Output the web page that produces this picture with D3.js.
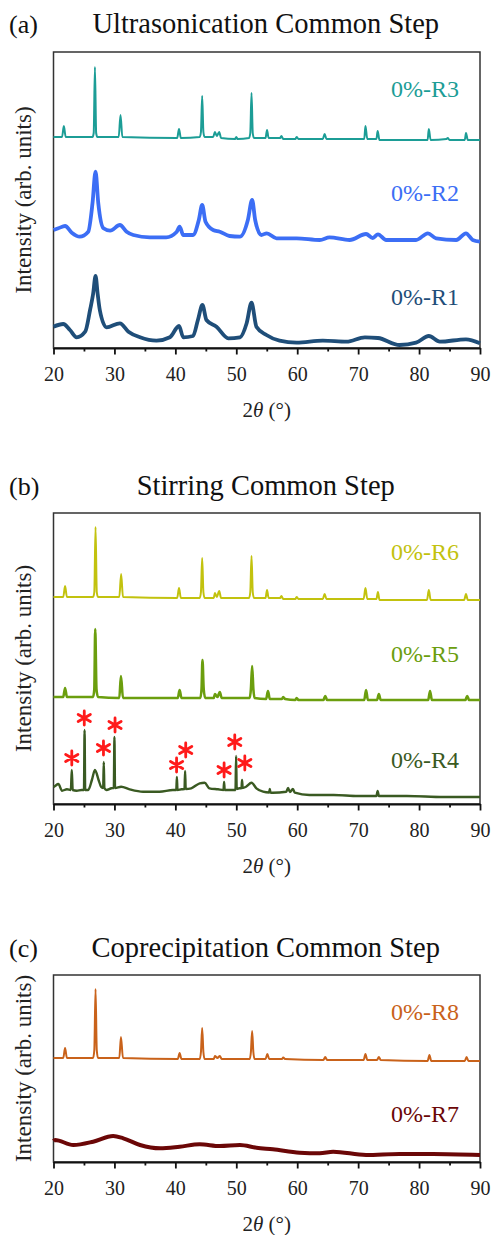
<!DOCTYPE html>
<html lang="en">
<head>
<meta charset="UTF-8">
<title>XRD patterns</title>
<script src="https://cdn.jsdelivr.net/npm/d3@7"></script>
<style>
  body { margin: 0; background: #fff; }
  svg { display: block; }
  text { font-family: "Liberation Serif", "Times New Roman", serif; }
</style>
</head>
<body>
<svg id="chart" width="493" height="1235"></svg>
<script>
// ---- data ----
var xTickValues = [20, 30, 40, 50, 60, 70, 80, 90];
var xMinorValues = [25, 35, 45, 55, 65, 75, 85];

var panelTags = ["(a)", "(b)", "(c)"];
var panelTitles = ["Ultrasonication Common Step", "Stirring Common Step", "Coprecipitation Common Step"];

var namesA = ["0%-R3", "0%-R2", "0%-R1"];
var namesB = ["0%-R6", "0%-R5", "0%-R4"];
var namesC = ["0%-R8", "0%-R7"];

// [2θ, intensity (arb. units)]
var r3 = [[20,211],[21.4,211],[21.7,222],[22.0,211],[26.4,211],[26.6,215],[26.8,281],[27.0,215],[27.2,211],
  [30.7,211],[31.0,233],[31.3,211],[40.3,210],[40.6,219],[40.9,210],[44.0,211],[44.2,216],[44.4,252],[44.6,216],
  [44.8,211],[46.2,211],[46.5,216],[46.8,212],[47.2,216],[47.5,210],[49.8,209],[50.0,211],[50.2,209],[52.1,210],
  [52.3,215],[52.5,255],[52.7,215],[52.9,210],[54.8,210],[55.05,218],[55.3,210],[57.2,210],[57.4,212],[57.7,209],
  [59.7,209],[59.9,211],[60.2,209],[64.2,209],[64.5,214],[64.8,209],[71.0,209],[71.2,222],[71.5,209],[73.0,209],
  [73.2,217],[73.5,208],[76,208],[81.4,208],[81.6,219],[81.9,208],[84.5,209],[84.7,210],[85,208],[87.5,208],
  [87.7,215],[88.0,208],[90,208]];
var r2 = [[20,118],[20.8,119.7],[21.9,122],[23.0,115.3],[24.3,111.3],[25.7,116.3],[26.4,144.7],[26.9,176.3],
  [27.35,144.7],[28.2,119.7],[29.3,117.3],[30.9,123],[32.0,116.3],[33.1,113],[35.8,110.7],[38.5,110.7],[40.2,116],
  [40.7,121.3],[41.3,113],[42.9,113],[43.85,128],[44.4,143],[44.95,126.3],[46.2,118],[47.3,116.3],[48.9,112],
  [50.6,111.3],[51.9,128],[52.6,148],[53.1,128],[54.1,113],[55.0,114.7],[56.6,109.7],[59.9,109.7],[63.7,108],
  [65.3,110.7],[68.6,108],[71.3,114],[72.4,110],[73.25,113.7],[74.6,108],[79.5,108],[81.45,114.7],[82.8,109.7],
  [86.1,108],[87.7,114.7],[88.8,108],[90,106.3]];
var r1 = [[20,21.3],[21.6,24],[22.7,18],[23.8,10.7],[25.2,16.3],[26.0,38],[26.5,54],[26.9,72],[27.25,54],[27.6,38],
  [28.7,20.7],[30.9,24.7],[32.3,16.3],[34.2,10.7],[36.9,7.3],[39.1,10.7],[40.6,22],[41.3,10.7],[42.9,12],[43.7,28],
  [44.45,43],[45.1,28],[46.75,21.3],[48.7,9.7],[50.6,10.7],[51.7,24.7],[52.5,45.3],[53.3,21.3],[54.95,13],
  [57.1,7.3],[59.9,5.3],[64.2,7.3],[68.1,6.3],[71.1,10.7],[73.25,10],[76.8,3],[79.5,5.3],[81.6,12],[83.4,6.3],
  [87.7,8.7],[90,4.7]];

var r6 = [[20,207],[21.6,207],[21.9,218],[22.2,207],[26.5,207],[26.7,212],[26.9,277],[27.1,212],[27.3,207],
  [30.8,207],[31.1,230],[31.4,207],[40.3,206],[40.6,216],[40.9,206],[44.0,206],[44.2,212],[44.4,246],[44.6,212],
  [44.8,206],[46.3,206],[46.5,211],[46.8,207],[47.2,213],[47.5,206],[52.1,206],[52.3,212],[52.5,248],[52.7,212],
  [52.9,206],[54.8,206],[55.05,214],[55.3,206],[57.2,206],[57.4,208],[57.7,205],[59.7,205],[59.9,207],[60.2,205],
  [64.2,205],[64.5,210],[64.8,205],[70.9,205],[71.2,216],[71.5,205],[73.0,205],[73.25,212],[73.5,204],[81.3,204],
  [81.6,214],[81.9,204],[87.4,204],[87.7,210],[88.0,204],[90,204]];
var r5 = [[20,107],[21.6,107],[21.9,116],[22.2,107],[26.5,107],[26.7,115],[26.85,175],[27.05,115],[27.3,107],
  [30.8,106],[31.07,128],[31.4,106],[40.4,106],[40.7,114],[41.0,106],[44.1,106],[44.3,115],[44.45,144],[44.65,115],
  [44.9,106],[46.3,106],[46.5,110],[46.9,107],[47.3,112],[47.6,106],[52.2,106],[52.4,115],[52.6,138],[52.8,115],
  [53.0,106],[54.9,105],[55.2,113],[55.5,105],[57.5,105],[57.7,107],[58,105],[59.7,104],[59.9,106],[60.2,104],
  [64.3,104],[64.6,108],[64.9,104],[71.0,104],[71.3,114],[71.6,104],[73.1,104],[73.4,110],[73.7,104],[81.5,104],
  [81.8,113],[82.1,104],[87.6,104],[87.9,108],[88.2,104],[90,104]];
var r4 = [[20,17],[20.25,18],[20.8,20],[21.4,13.3],[22.2,14.7],[22.85,14],[23.0,34],[23.15,14],[23.8,13.3],
  [24.6,14],[25.0,14],[25.1,74],[25.2,14],[25.7,14],[26.3,24],[26.8,34],[27.4,24],[27.8,17.3],[28.15,16],[28.25,42],
  [28.35,16],[28.7,14],[29.5,15.7],[29.9,16],[30.0,67],[30.1,16],[31.1,17.3],[32.5,14.7],[34.7,12.3],[37.4,12.3],
  [39.6,14],[40.15,14],[40.25,27],[40.35,14],[41.0,14.7],[41.5,15],[41.6,33],[41.7,15],[42.6,15.7],[44.0,20.7],
  [44.8,21.3],[45.6,15.7],[47.0,14.7],[47.9,14],[48.0,22],[48.1,14],[49.2,14],[49.87,14],[49.97,48],[50.07,15],
  [50.5,15.7],[50.85,16],[50.95,24],[51.05,16],[51.6,17.3],[52.5,21.3],[53.3,15.7],[54.4,12.3],[55.4,11.5],
  [55.5,15],[55.6,11.5],[56.0,11.3],[58.2,12.3],[58.5,16],[58.8,12],[59.3,15],[59.6,11.3],[62,9],[66,9],[70,8],
  [73.0,8],[73.2,13],[73.4,8],[78,8],[84,7],[90,7]];
// red asterisks above the extra peaks of 0%-R4
var starTheta = [23.0, 25.05, 28.2, 30.1, 40.2, 41.7, 48.0, 49.75, 51.4];
var starLevel = [46, 86, 56, 79, 39, 54, 34, 62, 41];

var r8 = [[20,104],[21.6,104],[21.9,114],[22.2,104],[26.5,104],[26.7,112],[26.9,173],[27.1,112],[27.3,104],
  [30.8,104],[31.07,125],[31.4,104],[40.4,103],[40.7,109],[41.0,103],[44.0,103],[44.2,110],[44.4,134],[44.6,110],
  [44.8,103],[46.3,103],[46.5,106],[46.9,104],[47.3,106],[47.6,103],[52.2,103],[52.4,110],[52.6,131],[52.8,110],
  [53.0,103],[54.8,103],[55.1,108],[55.4,103],[57.5,103],[57.7,104.5],[58,103],[64.3,102],[64.6,105],[64.9,102],
  [70.9,102],[71.2,108],[71.5,102],[73.1,102],[73.4,105],[73.7,102],[81.4,101],[81.7,107],[82.0,101],[87.5,101],
  [87.8,105],[88.1,101],[90,101]];
var r7 = [[20,21],[20.25,22],[23.25,17],[26.5,20.3],[29.8,26],[31.45,23.7],[34.2,17],[37.5,13.7],[40.7,15.3],
  [44.0,17.7],[47.3,16],[50.6,17],[53.3,14.3],[56.0,12.7],[60.4,9.3],[63.7,8.7],[65.9,10.3],[71.3,7],[76.8,8],
  [82.3,8],[90,7]];

// ---- layout & style ----
var plotLeft = 53.5, plotRight = 480;
var serif = "'Liberation Serif', 'Times New Roman', serif";
var panels = [
  {top: 52, bottom: 348, titleY: 33, yMax: 296, names: namesA, series: [r3, r2, r1],
   colors: ["#1c9d96", "#3c6ef5", "#1f4e79"], widths: [2, 3.8, 3.8], labelY: [97, 201, 305]},
  {top: 513, bottom: 804, titleY: 495, yMax: 291, names: namesB, series: [r6, r5, r4],
   colors: ["#c2c20e", "#6b9e0e", "#3a5a22"], widths: [2, 2.6, 2.4], labelY: [560, 662, 768]},
  {top: 975, bottom: 1162, titleY: 957, yMax: 187, names: namesC, series: [r8, r7],
   colors: ["#c9621a", "#6b0707"], widths: [2, 4], labelY: [1020, 1122]}
];

var svg = d3.select("#chart").attr("font-family", serif);
var x = d3.scaleLinear().domain([20, 90]).range([plotLeft, plotRight]);

panels.forEach(function(p, pi) {
  var y = d3.scaleLinear().domain([0, p.yMax]).range([p.bottom, p.top]);
  var g = svg.append("g");

  // tag and title
  g.append("text").attr("x", 9).attr("y", p.titleY).attr("font-family", serif)
    .attr("font-size", 26).attr("fill", "#111").text(panelTags[pi]);
  g.append("text").attr("x", (plotLeft + plotRight) / 2 - 1).attr("y", p.titleY).attr("font-family", serif)
    .attr("text-anchor", "middle").attr("font-size", 28.5).attr("fill", "#111").text(panelTitles[pi]);

  // frame
  g.append("rect").attr("x", plotLeft).attr("y", p.top)
    .attr("width", plotRight - plotLeft).attr("height", p.bottom - p.top)
    .attr("fill", "none").attr("stroke", "#333").attr("stroke-width", 1.5);

  // patterns
  var line = d3.line().curve(d3.curveMonotoneX)
    .x(function(d) { return x(d[0]); }).y(function(d) { return y(d[1]); });
  p.series.forEach(function(s, si) {
    g.append("path").datum(s).attr("d", line)
      .attr("fill", "none").attr("stroke", p.colors[si]).attr("stroke-width", p.widths[si])
      .attr("stroke-linejoin", "round");
    g.append("text").attr("x", 459).attr("y", p.labelY[si]).attr("font-family", serif)
      .attr("text-anchor", "end").attr("font-size", 24).attr("fill", p.colors[si])
      .text(p.names[si]);
  });

  // asterisks for panel (b)
  if (pi === 1) {
    var star = d3.symbol().type(d3.symbolAsterisk).size(140);
    g.selectAll("path.star").data(starTheta).enter().append("path")
      .attr("class", "star")
      .attr("transform", function(d, i) { return "translate(" + x(d) + "," + y(starLevel[i]) + ")"; })
      .attr("d", star).attr("fill", "none").attr("stroke", "#ff1a1a").attr("stroke-width", 2.8)
      .attr("stroke-linecap", "round");
  }

  // x axis
  var ax = g.append("g").attr("transform", "translate(0," + p.bottom + ")");
  ax.call(d3.axisBottom(x).tickValues(xTickValues).tickSize(6.5).tickSizeOuter(0).tickPadding(12.5));
  ax.append("g").call(d3.axisBottom(x).tickValues(xMinorValues).tickSize(3.5).tickSizeOuter(0).tickFormat(""))
    .select(".domain").remove();
  ax.attr("font-family", serif);
  ax.selectAll(".domain").attr("stroke", "#111").attr("stroke-width", 2);
  ax.selectAll(".tick line").attr("stroke", "#111").attr("stroke-width", 1.8);
  ax.selectAll(".tick text").attr("font-size", 20).attr("fill", "#222").attr("font-family", serif);

  // axis titles
  var xt = g.append("text").attr("x", (plotLeft + plotRight) / 2).attr("y", p.bottom + 69)
    .attr("font-family", serif)
    .attr("text-anchor", "middle").attr("font-size", 21).attr("fill", "#222");
  xt.append("tspan").text("2");
  xt.append("tspan").attr("font-style", "italic").text("θ");
  xt.append("tspan").text(" (°)");

  g.append("text")
    .attr("transform", "translate(31," + ((p.top + p.bottom) / 2) + ") rotate(-90)")
    .attr("font-family", serif)
    .attr("text-anchor", "middle").attr("font-size", 23).attr("fill", "#222")
    .text("Intensity (arb. units)");
});
</script>
</body>
</html>
